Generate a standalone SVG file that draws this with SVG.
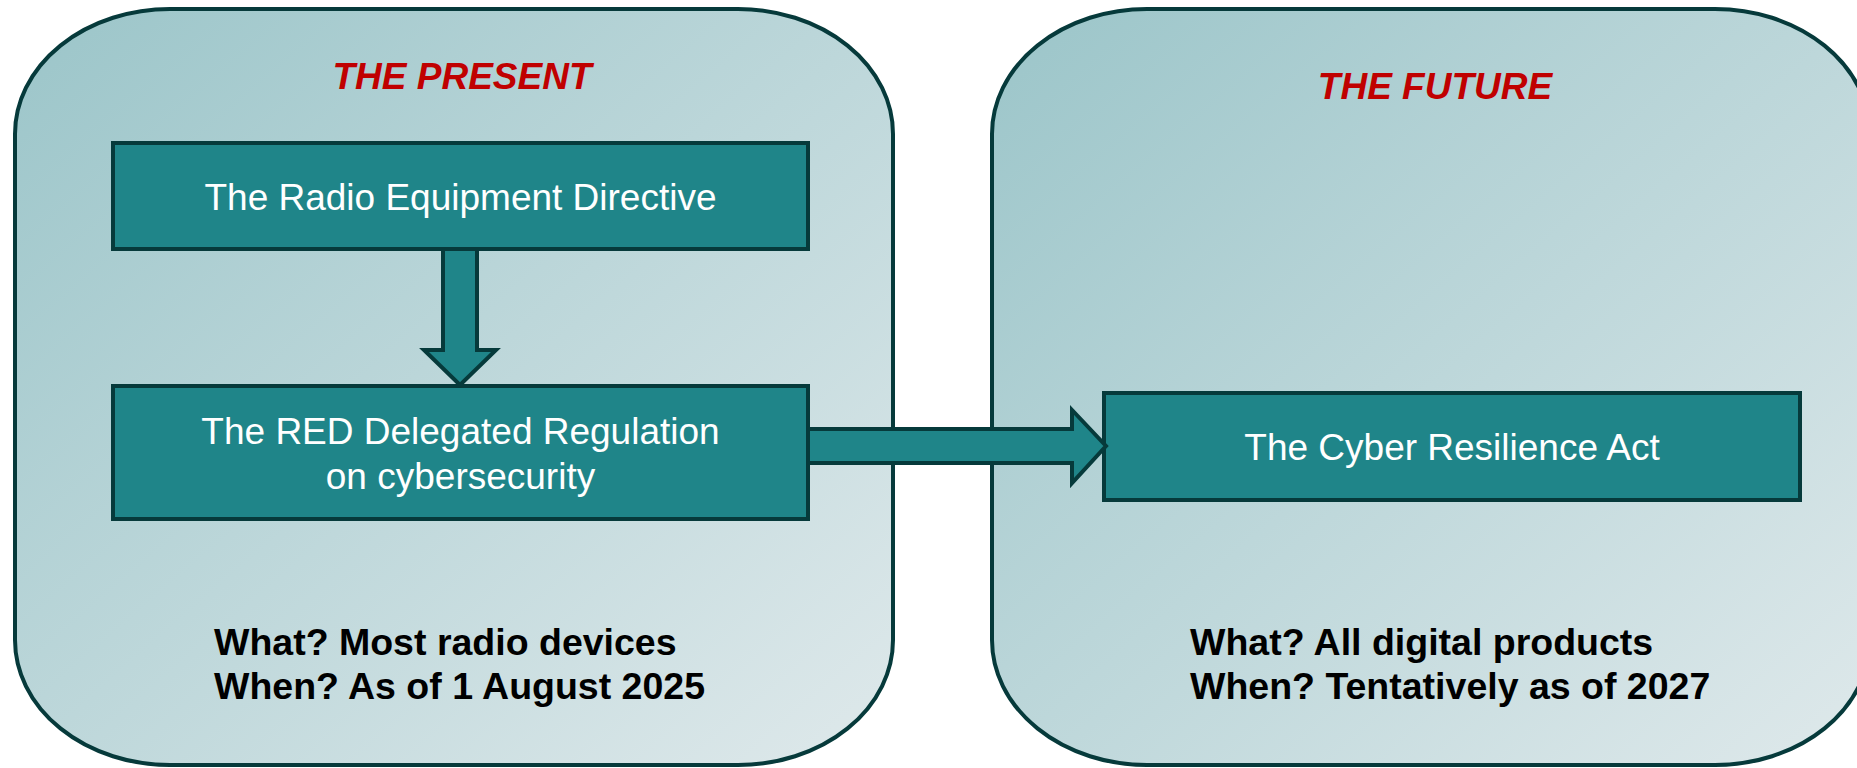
<svg xmlns="http://www.w3.org/2000/svg" width="1857" height="768" viewBox="0 0 1857 768">
<defs>
<linearGradient id="pg" x1="0" y1="0" x2="1" y2="1">
<stop offset="0" stop-color="#9bc5c9"/>
<stop offset="1" stop-color="#dfe9eb"/>
</linearGradient>
<style>
.panel{fill:url(#pg);stroke:#063a3b;stroke-width:4}
.box{fill:#1f8589;stroke:#063a3b;stroke-width:4}
.arrow{fill:#1f8589;stroke:#063a3b;stroke-width:4;stroke-linejoin:miter}
.title{font-family:"Liberation Sans",Arial,sans-serif;font-size:37px;font-weight:bold;font-style:italic;fill:#c00000;text-anchor:middle}
.btxt{font-family:"Liberation Sans",Arial,sans-serif;font-size:37px;fill:#ffffff;text-anchor:middle}
.note{font-family:"Liberation Sans",Arial,sans-serif;font-size:37.5px;font-weight:bold;fill:#000000}
</style>
</defs>
<g id="panel-present">
<rect class="panel" x="15" y="9" width="878" height="756" rx="155" ry="125"/>
<text class="title" x="462" y="89">THE PRESENT</text>
<text class="note" x="214" y="655">What? Most radio devices</text>
<text class="note" x="214" y="699">When? As of 1 August 2025</text>
</g>
<g id="panel-future">
<rect class="panel" x="992" y="9" width="878" height="756" rx="155" ry="125"/>
<text class="title" x="1435" y="99">THE FUTURE</text>
<text class="note" x="1190" y="655">What? All digital products</text>
<text class="note" x="1190" y="699">When? Tentatively as of 2027</text>
</g>
<g id="node-red">
<rect class="box" x="113" y="143" width="695" height="106"/>
<text class="btxt" x="460.5" y="210">The Radio Equipment Directive</text>
</g>
<g id="node-red-da">
<rect class="box" x="113" y="386" width="695" height="133"/>
<text class="btxt" x="460.5" y="444">The RED Delegated Regulation</text>
<text class="btxt" x="460.5" y="489">on cybersecurity</text>
</g>
<g id="node-cra">
<rect class="box" x="1104" y="393" width="696" height="107"/>
<text class="btxt" x="1452" y="460">The Cyber Resilience Act</text>
</g>
<g id="connectors">
<polygon class="arrow" points="443,249 477,249 477,350 496,350 460,385 424,350 443,350"/>
<polygon class="arrow" points="808,429 1072,429 1072,410 1106,446 1072,483 1072,463 808,463"/>
</g>
</svg>
